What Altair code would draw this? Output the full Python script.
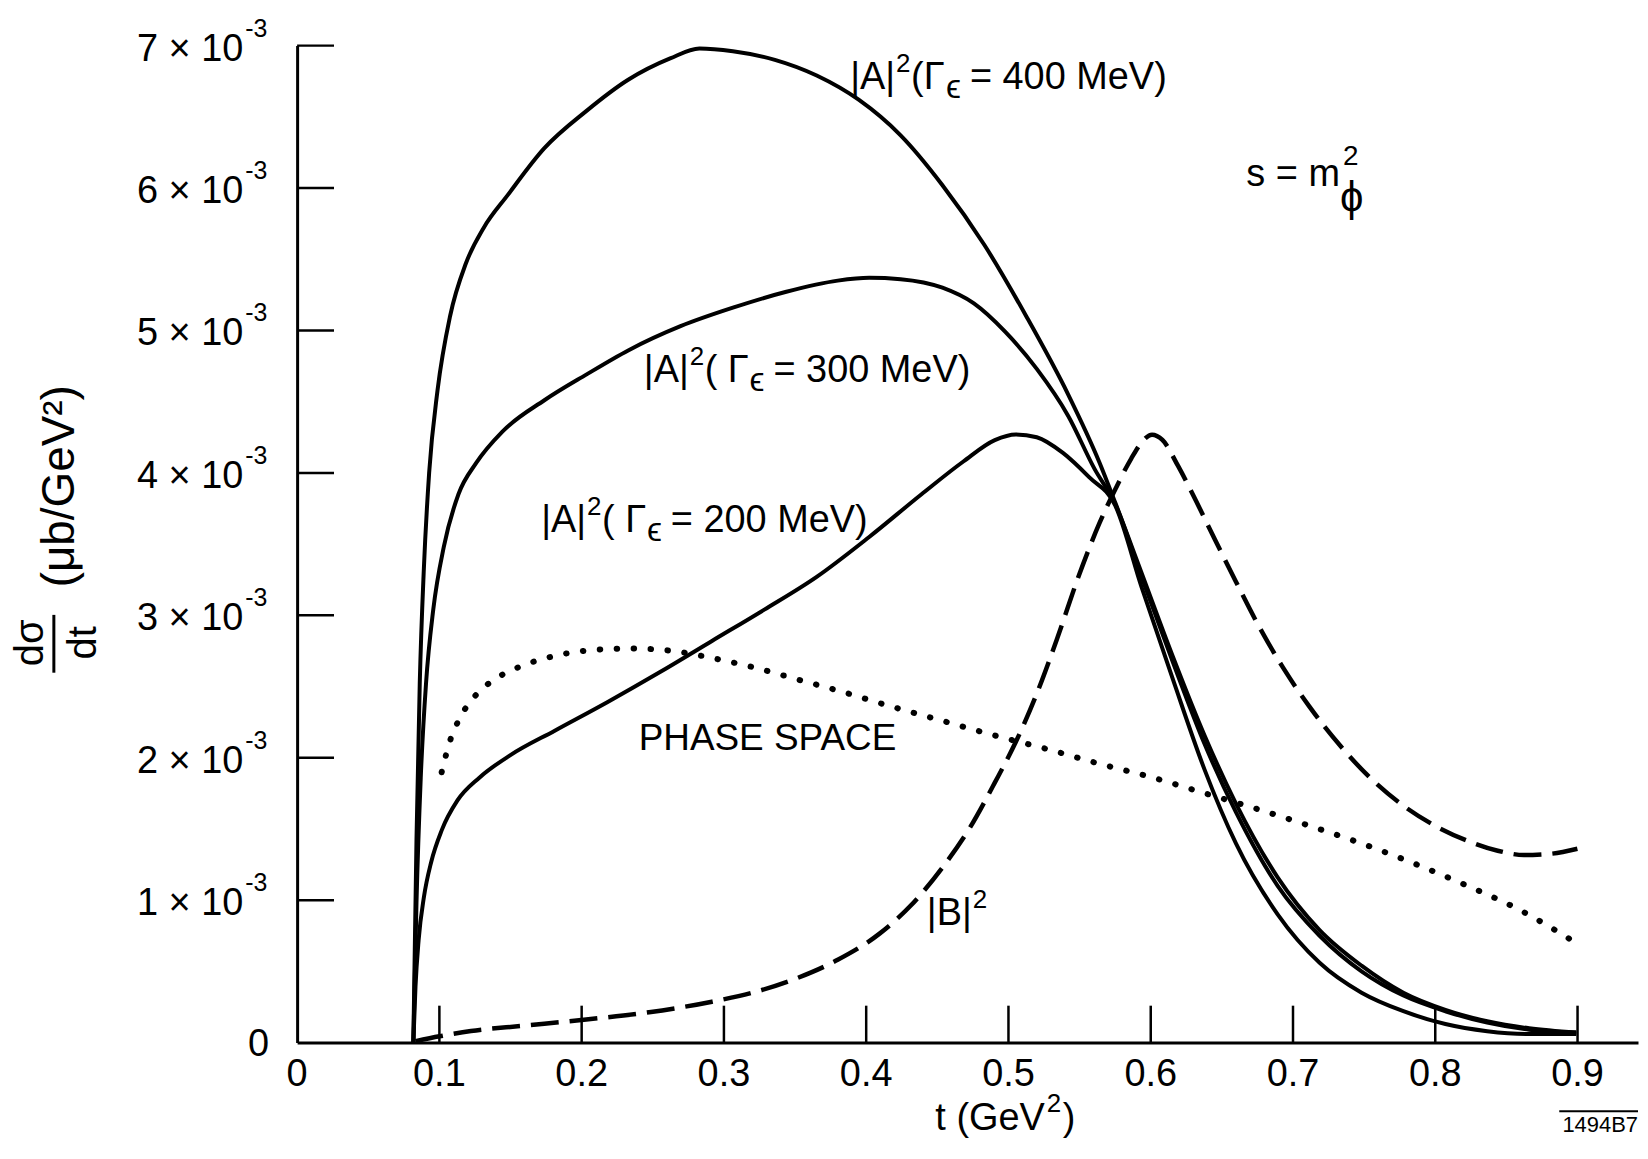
import altair as alt
import pandas as pd

# ---------------- data (t in GeV^2, dsigma/dt in units of 1e-3 microbarn/GeV^2) ----------------
t_400 = [0.0817, 0.0839, 0.0862, 0.0891, 0.0928, 0.0987, 0.1075, 0.1186, 0.1311, 0.148, 0.1738,
         0.2032, 0.2327, 0.2622, 0.2828, 0.3063, 0.3358, 0.3652, 0.3947, 0.4242, 0.4536, 0.4831,
         0.5125, 0.542, 0.5641, 0.5751, 0.5935, 0.6156, 0.6377, 0.6598, 0.6892, 0.7187, 0.7482,
         0.7776, 0.8071, 0.8365, 0.866, 0.8991]
y_400 = [0.0, 1.42, 2.52, 3.33, 4.00, 4.58, 5.10, 5.47, 5.72, 5.95, 6.28,
         6.54, 6.76, 6.91, 6.98, 6.96, 6.90, 6.79, 6.62, 6.37, 6.02, 5.60,
         5.10, 4.55, 4.07, 3.79, 3.30, 2.71, 2.16, 1.68, 1.16, 0.79, 0.54,
         0.35, 0.23, 0.15, 0.10, 0.07]

t_300 = [0.0817, 0.0839, 0.0869, 0.0906, 0.0957, 0.1031, 0.1134, 0.1259, 0.1443, 0.1738, 0.2032,
         0.2327, 0.2695, 0.3063, 0.3432, 0.38, 0.4021, 0.4242, 0.4536, 0.4757, 0.4978, 0.5199,
         0.542, 0.5604, 0.5751, 0.5935, 0.6156, 0.6377, 0.6598, 0.6892, 0.7187, 0.7482, 0.7776,
         0.8071, 0.8365, 0.866, 0.8991]
y_300 = [0.0, 0.98, 1.86, 2.52, 3.04, 3.48, 3.85, 4.07, 4.29, 4.51, 4.69,
         4.86, 5.03, 5.16, 5.27, 5.35, 5.37, 5.36, 5.30, 5.19, 4.99, 4.73,
         4.40, 4.03, 3.78, 3.27, 2.67, 2.10, 1.62, 1.10, 0.75, 0.50, 0.33,
         0.22, 0.14, 0.09, 0.07]

t_200 = [0.0817, 0.0832, 0.0854, 0.0891, 0.0943, 0.1016, 0.1127, 0.1281, 0.1502, 0.1811, 0.218,
         0.2548, 0.2916, 0.3284, 0.3652, 0.4021, 0.4389, 0.4683, 0.4904, 0.5052, 0.5199, 0.5383,
         0.5567, 0.5751, 0.5935, 0.6156, 0.6377, 0.6598, 0.6892, 0.7187, 0.7482, 0.7776, 0.8071,
         0.8365, 0.866, 0.8991]
y_200 = [0.0, 0.39, 0.72, 1.02, 1.27, 1.49, 1.70, 1.86, 2.02, 2.19, 2.39,
         2.60, 2.82, 3.04, 3.27, 3.55, 3.85, 4.08, 4.23, 4.27, 4.25, 4.14,
         3.97, 3.77, 3.20, 2.55, 1.92, 1.40, 0.90, 0.56, 0.35, 0.22, 0.13,
         0.08, 0.06, 0.06]

t_b = [0.0832, 0.1001, 0.1222, 0.1591, 0.2032, 0.2474, 0.2916, 0.3211, 0.3505, 0.38, 0.4094,
       0.4315, 0.4536, 0.472, 0.4904, 0.5052, 0.5199, 0.5346, 0.5493, 0.5641, 0.5751, 0.5862,
       0.595, 0.6009, 0.6082, 0.6193, 0.6303, 0.6451, 0.6598, 0.6745, 0.6929, 0.7113, 0.7334,
       0.7555, 0.7776, 0.7997, 0.8218, 0.8439, 0.8623, 0.8807, 0.8999]
y_b = [0.01, 0.044, 0.081, 0.118, 0.162, 0.213, 0.287, 0.353, 0.449, 0.581, 0.765,
       0.964, 1.229, 1.494, 1.825, 2.112, 2.450, 2.848, 3.274, 3.650, 3.885, 4.099,
       4.231, 4.268, 4.231, 4.047, 3.834, 3.532, 3.238, 2.951, 2.634, 2.362, 2.082,
       1.847, 1.663, 1.523, 1.420, 1.347, 1.317, 1.325, 1.361]

t_ps = [0.1016, 0.1075, 0.1149, 0.1259, 0.1406, 0.1591, 0.1811, 0.2032, 0.2327, 0.2622, 0.2916,
        0.3211, 0.3505, 0.38, 0.4168, 0.4536, 0.4904, 0.5273, 0.5641, 0.6009, 0.6377, 0.6745,
        0.7113, 0.7482, 0.785, 0.8218, 0.8586, 0.8991]
y_ps = [1.898, 2.119, 2.288, 2.443, 2.561, 2.649, 2.715, 2.752, 2.767, 2.752, 2.700,
        2.634, 2.553, 2.472, 2.362, 2.259, 2.156, 2.060, 1.957, 1.862, 1.751, 1.641,
        1.523, 1.398, 1.258, 1.104, 0.935, 0.699]

y_tick_values = [1, 2, 3, 4, 5, 6, 7]
y_tick_labels = ["1 × 10", "2 × 10", "3 × 10", "4 × 10", "5 × 10", "6 × 10", "7 × 10"]
x_tick_values = [0.1, 0.2, 0.3, 0.4, 0.5, 0.6, 0.7, 0.8, 0.9]
x_label_values = [0.0, 0.1, 0.2, 0.3, 0.4, 0.5, 0.6, 0.7, 0.8, 0.9]
x_label_texts = ["0", "0.1", "0.2", "0.3", "0.4", "0.5", "0.6", "0.7", "0.8", "0.9"]

# curve-label anchors (data coordinates)
lab_paren = ["(Γ", "( Γ", "( Γ"]
lab_tails = ["= 400  MeV)", "= 300 MeV)", "= 200 MeV)"]
lab_t = [0.3888, 0.2437, 0.1716]
lab_y = [6.77, 4.717, 3.664]

# ---------------- chart ----------------
W, H = 1345, 1000
XMAX = 0.9425
FONT = "Liberation Sans"

xs = alt.Scale(domain=[0, XMAX], nice=False, zero=False)
ys = alt.Scale(domain=[0, 7], nice=False, zero=False)


def X():
    return alt.X("t:Q", scale=xs, title=None)


def Y():
    return alt.Y("y:Q", scale=ys, title=None)


def curve(t, y, **mk):
    df = pd.DataFrame({"t": t, "y": y})
    return alt.Chart(df).mark_line(color="black", interpolate="monotone", **mk).encode(x=X(), y=Y())


def txt(df, **mk):
    base = dict(font=FONT, color="black", baseline="middle")
    base.update(mk)
    return alt.Chart(df).mark_text(**base)


def at(t, y, s):
    return pd.DataFrame({"t": t, "y": y, "s": s})


layers = []

# curves
layers.append(curve(t_400, y_400, strokeWidth=4))
layers.append(curve(t_300, y_300, strokeWidth=4))
layers.append(curve(t_200, y_200, strokeWidth=4))
layers.append(curve(t_b, y_b, strokeWidth=4.5, strokeDash=[28, 11]))
layers.append(curve(t_ps, y_ps, strokeWidth=6, strokeDash=[0.5, 16.5], strokeCap="round"))

# inward ticks
ytick_df = pd.DataFrame({"y": y_tick_values})
layers.append(alt.Chart(ytick_df).mark_rule(color="black", strokeWidth=2.5).encode(
    x=alt.value(0), x2=alt.value(37), y=Y()))
xtick_df = pd.DataFrame({"t": x_tick_values})
layers.append(alt.Chart(xtick_df).mark_rule(color="black", strokeWidth=2.5).encode(
    x=X(), y=alt.value(H), y2=alt.value(H - 37)))

# y tick labels
ylab_df = pd.DataFrame({"y": y_tick_values, "lab": y_tick_labels})
layers.append(txt(ylab_df, align="right", fontSize=38, dy=4).encode(
    x=alt.value(-54), y=Y(), text="lab:N"))
layers.append(txt(ylab_df.assign(sup="-3"), align="left", fontSize=25, dy=-17).encode(
    x=alt.value(-52), y=Y(), text="sup:N"))
layers.append(txt(pd.DataFrame({"y": [0], "lab": ["0"]}), align="right", fontSize=38, dy=2).encode(
    x=alt.value(-28), y=Y(), text="lab:N"))

# x tick labels
xlab_df = pd.DataFrame({"t": x_label_values, "lab": x_label_texts})
layers.append(txt(xlab_df, align="center", fontSize=38).encode(
    x=X(), y=alt.value(1033), text="lab:N"))

# x title  t (GeV^2)
layers.append(txt(pd.DataFrame({"s": ["t (GeV"]}), align="right", fontSize=38).encode(
    x=alt.value(750), y=alt.value(1077), text="s:N"))
layers.append(txt(pd.DataFrame({"s": ["2"]}), align="left", fontSize=26).encode(
    x=alt.value(752), y=alt.value(1062), text="s:N"))
layers.append(txt(pd.DataFrame({"s": [")"]}), align="left", fontSize=38).encode(
    x=alt.value(768), y=alt.value(1077), text="s:N"))

# y title  dσ/dt (μb/GeV^2), rotated
layers.append(txt(pd.DataFrame({"s": ["dσ"]}), align="center", fontSize=40, angle=270).encode(
    x=alt.value(-267), y=alt.value(599), text="s:N"))
layers.append(alt.Chart(pd.DataFrame({"s": [1]})).mark_rule(color="black", strokeWidth=3).encode(
    x=alt.value(-244), y=alt.value(571), y2=alt.value(629)))
layers.append(txt(pd.DataFrame({"s": ["dt"]}), align="center", fontSize=40, angle=270).encode(
    x=alt.value(-214), y=alt.value(599), text="s:N"))
layers.append(txt(pd.DataFrame({"s": ["(μb/GeV²)"]}), align="center", fontSize=46, angle=270).encode(
    x=alt.value(-238), y=alt.value(442), text="s:N"))

# curve labels |A|^2(Γ_ϵ = ... MeV)
layers.append(txt(at(lab_t, lab_y, ["|A|"] * 3), align="left", fontSize=38).encode(x=X(), y=Y(), text="s:N"))
layers.append(txt(at(lab_t, lab_y, ["2"] * 3), align="left", fontSize=26, dx=46, dy=-14).encode(x=X(), y=Y(), text="s:N"))
layers.append(txt(at(lab_t, lab_y, lab_paren), align="left", fontSize=38, dx=61).encode(x=X(), y=Y(), text="s:N"))
layers.append(txt(at(lab_t[:1], lab_y[:1], ["ϵ"]), align="left", fontSize=34, dx=96, dy=10).encode(x=X(), y=Y(), text="s:N"))
layers.append(txt(at(lab_t[1:], lab_y[1:], ["ϵ", "ϵ"]), align="left", fontSize=34, dx=106, dy=10).encode(x=X(), y=Y(), text="s:N"))
layers.append(txt(at(lab_t[:1], lab_y[:1], lab_tails[:1]), align="left", fontSize=38, dx=120).encode(x=X(), y=Y(), text="s:N"))
layers.append(txt(at(lab_t[1:], lab_y[1:], lab_tails[1:]), align="left", fontSize=38, dx=130).encode(x=X(), y=Y(), text="s:N"))

# other annotations
layers.append(txt(at([0.2401], [2.134], ["PHASE  SPACE"]), align="left", fontSize=37).encode(x=X(), y=Y(), text="s:N"))
layers.append(txt(at([0.4426], [0.905], ["|B|"]), align="left", fontSize=38).encode(x=X(), y=Y(), text="s:N"))
layers.append(txt(at([0.4426], [0.905], ["2"]), align="left", fontSize=26, dx=46, dy=-14).encode(x=X(), y=Y(), text="s:N"))
layers.append(txt(at([0.6672], [6.093], ["s = m"]), align="left", fontSize=38).encode(x=X(), y=Y(), text="s:N"))
layers.append(txt(at([0.6672], [6.093], ["2"]), align="left", fontSize=28, dx=97, dy=-18).encode(x=X(), y=Y(), text="s:N"))
layers.append(txt(at([0.6672], [6.093], ["ϕ"]), align="left", fontSize=42, dx=94, dy=23).encode(x=X(), y=Y(), text="s:N"))

# figure number
layers.append(txt(pd.DataFrame({"s": ["1494B7"]}), align="right", fontSize=22).encode(
    x=alt.value(1345), y=alt.value(1083), text="s:N"))
layers.append(alt.Chart(pd.DataFrame({"s": [1]})).mark_rule(color="black", strokeWidth=2).encode(
    x=alt.value(1266), x2=alt.value(1345), y=alt.value(1069)))

chart = alt.layer(*layers).properties(
    width=W, height=H,
    padding={"left": 290, "top": 36, "right": 2, "bottom": 98},
    autosize=alt.AutoSizeParams(type="none"),
    background="white",
).configure_axis(
    domain=True, domainColor="black", domainWidth=3, ticks=False, labels=False, grid=False
).configure_view(strokeWidth=0)

chart.save("out.html", embed_options={"renderer": "svg", "actions": False})
